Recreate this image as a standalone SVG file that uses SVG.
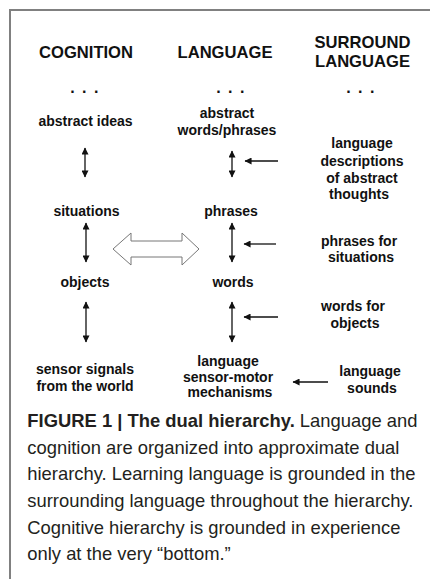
<svg xmlns="http://www.w3.org/2000/svg" width="430" height="579" viewBox="0 0 430 579">
<defs>
<style>
.hd{font-family:"Liberation Sans",Arial,sans-serif;font-weight:bold;font-size:16.6px;fill:#111;text-anchor:middle}
.lb{font-family:"Liberation Sans",Arial,sans-serif;font-weight:bold;font-size:14px;fill:#111;text-anchor:middle}
.dots{font-family:"Liberation Sans",Arial,sans-serif;font-weight:bold;font-size:16px;fill:#111;text-anchor:middle;letter-spacing:1.5px}
.cap{font-family:"Liberation Sans",Arial,sans-serif;font-size:18.4px;fill:#231f20}
.ln{stroke:#111;stroke-width:1.3;fill:none}
</style>
<marker id="ah" viewBox="0 0 8 8" refX="7.5" refY="4" markerWidth="8" markerHeight="7" markerUnits="userSpaceOnUse" orient="auto-start-reverse">
<path d="M0,0 L8,4 L0,8 Z" fill="#111"/>
</marker>
</defs>
<rect x="0" y="0" width="430" height="579" fill="#fff"/>
<path d="M10,579 L10,10 L430,10" fill="none" stroke="#808080" stroke-width="2"/>

<g id="headers">
<text class="hd" x="86" y="58">COGNITION</text>
<text class="hd" x="225" y="58">LANGUAGE</text>
<text class="hd" x="362.5" y="48">SURROUND</text>
<text class="hd" x="362.5" y="67">LANGUAGE</text>
<text class="dots" x="85" y="93">. . .</text>
<text class="dots" x="231" y="93">. . .</text>
<text class="dots" x="361" y="93">. . .</text>
</g>

<g id="abstract-ideas"><text class="lb" x="85.5" y="126">abstract ideas</text></g>
<g id="abstract-words"><text class="lb" x="227" y="118">abstract</text><text class="lb" x="227" y="135">words/phrases</text></g>
<g id="lang-desc"><text class="lb" x="362" y="148">language</text><text class="lb" x="362" y="166">descriptions</text><text class="lb" x="362" y="183">of abstract</text><text class="lb" x="359" y="199">thoughts</text></g>

<g id="situations"><text class="lb" x="86.5" y="216">situations</text></g>
<g id="phrases"><text class="lb" x="231" y="216">phrases</text></g>
<g id="phrases-for"><text class="lb" x="359" y="245.5">phrases for</text><text class="lb" x="361" y="262">situations</text></g>

<g id="objects"><text class="lb" x="85" y="287">objects</text></g>
<g id="words"><text class="lb" x="233" y="287">words</text></g>
<g id="words-for"><text class="lb" x="353" y="311">words for</text><text class="lb" x="355" y="328">objects</text></g>

<g id="sensor-signals"><text class="lb" x="85" y="374">sensor signals</text><text class="lb" x="85" y="391">from the world</text></g>
<g id="lang-sensor"><text class="lb" x="228" y="366">language</text><text class="lb" x="228" y="381.5">sensor-motor</text><text class="lb" x="230" y="397">mechanisms</text></g>
<g id="lang-sounds"><text class="lb" x="370" y="376">language</text><text class="lb" x="372" y="393">sounds</text></g>

<g id="connectors">
<line class="ln" x1="85" y1="148" x2="85" y2="177" marker-start="url(#ah)" marker-end="url(#ah)"/>
<line class="ln" x1="232" y1="151" x2="232" y2="177" marker-start="url(#ah)" marker-end="url(#ah)"/>
<line class="ln" x1="278" y1="161" x2="245" y2="161" marker-end="url(#ah)"/>
<line class="ln" x1="86" y1="223" x2="86" y2="262" marker-start="url(#ah)" marker-end="url(#ah)"/>
<line class="ln" x1="232" y1="223" x2="232" y2="262" marker-start="url(#ah)" marker-end="url(#ah)"/>
<line class="ln" x1="276" y1="244" x2="244" y2="244" marker-end="url(#ah)"/>
<polygon points="113,249 131,233 131,241 182,241 182,233 199,249 182,265 182,257 131,257 131,265" fill="#fff" stroke="#777" stroke-width="1"/>
<line class="ln" x1="86" y1="302" x2="86" y2="342" marker-start="url(#ah)" marker-end="url(#ah)"/>
<line class="ln" x1="232" y1="302" x2="232" y2="342" marker-start="url(#ah)" marker-end="url(#ah)"/>
<line class="ln" x1="278" y1="317" x2="244" y2="317" marker-end="url(#ah)"/>
<line class="ln" x1="328" y1="382" x2="293" y2="382" marker-end="url(#ah)"/>
</g>

<g id="caption">
<text class="cap" x="27.3" y="427"><tspan font-weight="bold">FIGURE 1 | The dual hierarchy.</tspan> Language and</text>
<text class="cap" x="27.3" y="453.5">cognition are organized into approximate dual</text>
<text class="cap" x="27.3" y="480">hierarchy. Learning language is grounded in the</text>
<text class="cap" x="27.3" y="507">surrounding language throughout the hierarchy.</text>
<text class="cap" x="27.3" y="533.5">Cognitive hierarchy is grounded in experience</text>
<text class="cap" x="27.3" y="560">only at the very “bottom.”</text>
</g>
</svg>
